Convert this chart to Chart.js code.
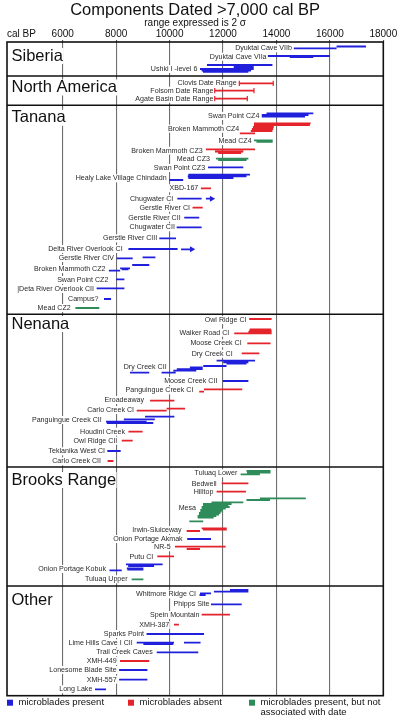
<!DOCTYPE html>
<html>
<head>
<meta charset="utf-8">
<script src="https://cdn.jsdelivr.net/npm/chart.js@4.4.1/dist/chart.umd.min.js"></script>
<style>
  html, body { margin: 0; padding: 0; background: #fff; }
  #wrap { width: 398px; height: 720px; position: relative; }
</style>
</head>
<body>
<div id="wrap"><canvas id="chart"></canvas></div>
<script>
// Components dated >7,000 cal BP, 2 sigma ranges
// site: [name, label row, label ends at (cal BP), kind, [[from, to, row, mark], ...]]
// rows count down from the top of the plot

const xTicks = [6000, 8000, 10000, 12000, 14000, 16000, 18000];
const sectionNames = ['Siberia', 'North America', 'Tanana', 'Nenana', 'Brooks Range', 'Other'];
const sectionRows = [14, 45.5, 75.8, 282, 438, 558];
const sectionBreaks = [34, 63.3, 272.3, 425, 544];
const kinds = ['B', 'R', 'G'];
const kindColors = ['#2020dc', '#e4232b', '#2e8b5a'];
const legendLabels = [['microblades present'], ['microblades absent'], ['microblades present, but not', 'associated with date']];

const siberia = [
    ['Dyuktai Cave VIIb', 6.3, 14580, 'B', [[14650, 16250, 6.3], [16250, 17350, 4.5]]],
    ['Dyuktai Cave VIIa', 14.7, 13630, 'B', [[13680, 16000, 14], [14500, 15380, 15.2]]],
    ['Ushki I -level 6', 27, 11040, 'B', [[11400, 13850, 23], [12400, 13150, 25], [11140, 13150, 27], [11200, 13050, 28.5], [11250, 12950, 29.8]]],
];

const northAmerica = [
    ['Clovis Date Range', 41.3, 12510, 'R', [[12610, 13880, 41.3, 'cap']]],
    ['Folsom Date Range', 48.7, 11640, 'R', [[11690, 13160, 48.7, 'cap']]],
    ['Agate Basin Date Range', 56.7, 11640, 'R', [[11690, 12910, 56.7, 'cap']]],
];

const tanana = [
    ['Swan Point CZ4', 74, 13360, 'B', [[13630, 15380, 71.3], [13450, 15200, 73], [13450, 15070, 74.6]]],
    ['Broken Mammoth CZ4', 86.7, 12610, 'R', [[12630, 13200, 91.3], [13160, 15280, 81.3], [13160, 15250, 83], [13120, 13900, 85], [13080, 13880, 87], [13040, 13850, 89]]],
    ['Mead CZ4', 99, 13070, 'G', [[13160, 13860, 98.3], [13250, 13860, 99.8]]],
    ['Broken Mammoth CZ3', 108.7, 11240, 'R', [[11360, 13200, 107.3], [11700, 12760, 109.5], [11820, 12680, 111]]],
    ['Mead CZ3', 117.3, 11510, 'G', [[11740, 12950, 116.7], [11820, 12880, 118.2]]],
    ['Swan Point CZ3', 126, 11330, 'B', [[11440, 12760, 125.3]]],
    ['Healy Lake Village Chindadn', 136.3, 9890, 'B', [[9990, 10510, 138], [10700, 13010, 132.7], [10680, 12880, 134.4], [10700, 12390, 136.2]]],
    ['XBD-167', 146.3, 11075, 'R', [[11175, 11550, 146.3]]],
    ['Chugwater CI', 156.7, 10140, 'B', [[10290, 11200, 156.7], [11360, 11575, 156.7, 'arrow']]],
    ['Gerstle River CI', 165.7, 10765, 'R', [[10860, 11240, 165.7]]],
    ['Gerstle River CII', 175.7, 10415, 'B', [[10550, 11110, 175.7]]],
    ['Chugwater CII', 185.3, 10200, 'B', [[10265, 11200, 185.3]]],
    ['Gerstle River CIII', 196.3, 9540, 'B', [[9615, 10240, 196.3]]],
    ['Delta River Overlook CI', 207, 8245, 'B', [[8460, 10300, 207], [10430, 10830, 207.3, 'arrow']]],
    ['Gerstle River CIV', 216, 7920, 'B', [[8020, 8620, 216.3], [8990, 9470, 215.3]]],
    ['Broken Mammoth CZ2', 227, 7600, 'B', [[7730, 8150, 228.7], [8150, 8520, 226.3], [8210, 8460, 227.4], [8600, 9240, 223]]],
    ['Swan Point CZ2', 238, 7710, 'B', [[8000, 8310, 237.3]]],
    ['|Deta River Overlook CII', 247, 7170, 'B', [[7270, 8310, 246.3]]],
    ['Campus?', 257, 7335, 'B', [[7545, 7810, 257]]],
    ['Mead CZ2', 266, 6300, 'G', [[6475, 7370, 266]]],
];

const nenana = [
    ['Owl Ridge CI', 278, 12880, 'R', [[12980, 13820, 277]]],
    ['Walker Road CI', 290.7, 12235, 'R', [[12420, 13820, 291.3], [12950, 13820, 290], [12980, 13820, 288.7], [13000, 13800, 287.5]]],
    ['Moose Creek CI', 301.3, 12700, 'R', [[12910, 13780, 301.3]]],
    ['Dry Creek CI', 311.7, 12360, 'R', [[12700, 13360, 311.3]]],
    ['Dry Creek CII', 324.7, 9890, 'B', [[11760, 13200, 318.7], [12010, 12950, 320.3], [12130, 12880, 321.7], [11260, 12130, 324], [10760, 11240, 325.5], [10270, 11240, 327.2], [10140, 11000, 328.6], [9700, 10230, 330.7], [8520, 9240, 330.7]]],
    ['Moose Creek CII', 339, 11790, 'B', [[11990, 12950, 339]]],
    ['Panguingue Creek CI', 348.3, 10890, 'R', [[11110, 11290, 349.7], [11290, 12720, 347.3]]],
    ['Eroadeaway', 358, 9045, 'R', [[9270, 10180, 358.7]]],
    ['Carlo Creek CI', 368, 8670, 'R', [[8770, 9890, 368.7], [9890, 10580, 366.7]]],
    ['Panguingue Creek CII', 378, 7460, 'B', [[9080, 10180, 374.7], [8290, 9450, 377.3], [7620, 9140, 379.7], [7650, 9390, 381]]],
    ['Houdini Creek', 389.7, 8330, 'R', [[8460, 8990, 389.7]]],
    ['Owl Ridge CII', 398.7, 8045, 'R', [[8210, 8620, 398.7]]],
    ['Teklanika West CI', 409.3, 7585, 'B', [[7670, 8170, 409]]],
    ['Carlo Creek CII', 419.3, 7435, 'R', [[7680, 7900, 419]]],
];

const brooksRange = [
    ['Tuluaq Lower', 431.3, 12535, 'G', [[12660, 13380, 432.3], [12880, 13780, 429], [12900, 13780, 430.6]]],
    ['Bedwell', 441.7, 11760, 'R', [[11950, 12950, 441.3]]],
    ['Hilltop', 449.7, 11640, 'R', [[11760, 12860, 449.7]]],
    ['Mesa', 466.3, 10990, 'G', [[13380, 15100, 456.3], [12880, 13760, 458], [11570, 12760, 460.3], [11250, 12320, 462], [11250, 12200, 463.5], [11200, 12250, 465], [11200, 12100, 466.5], [11150, 12000, 468], [11150, 11950, 469.5], [11100, 11900, 471], [11100, 11850, 472.5], [11050, 11750, 474], [11050, 11650, 475.5], [10740, 11260, 479.3]]],
    ['Irwin-Sluiceway', 488, 10450, 'R', [[10640, 11140, 489], [11200, 12140, 486.3], [11250, 12140, 487.7]]],
    ['Onion Portage Akmak', 497, 10490, 'B', [[10660, 11550, 497]]],
    ['NR-5', 505.3, 10040, 'R', [[10200, 12100, 504.7], [10640, 11140, 507]]],
    ['Putu CI', 514.7, 9390, 'R', [[9540, 10165, 514.3]]],
    ['Onion Portage Kobuk', 527, 7620, 'B', [[7750, 8210, 528.3], [8370, 9740, 522.3], [8450, 9420, 524], [8400, 9020, 526.3], [8420, 9020, 527.7]]],
    ['Tuluaq Upper', 537.3, 8430, 'G', [[8580, 9020, 537.3]]],
];

const other = [
    ['Whitmore Ridge CI', 552.3, 10990, 'B', [[11140, 11550, 551.3], [11120, 11350, 553], [11660, 12950, 549.7], [12260, 12950, 548]]],
    ['Phipps Site', 562.3, 11490, 'B', [[11550, 12700, 562.3]]],
    ['Spein Mountain', 573, 11115, 'R', [[11200, 12260, 572.7]]],
    ['XMH-387', 583, 9990, 'R', [[10165, 10350, 582.7]]],
    ['Sparks Point', 592, 9045, 'B', [[9140, 11290, 592]]],
    ['Lime Hills Cave I CII', 601.3, 8620, 'B', [[8770, 10165, 600.7], [9020, 10140, 602], [10540, 11160, 600.7]]],
    ['Trail Creek Caves', 610.3, 9370, 'B', [[9520, 11075, 610.3]]],
    ['XMH-449', 619, 8020, 'R', [[8145, 9240, 619]]],
    ['Lonesome Blade Site', 628, 8020, 'B', [[8110, 9170, 628]]],
    ['XMH-557', 637.7, 8020, 'B', [[8110, 9170, 637.7]]],
    ['Long Lake', 647.3, 7110, 'B', [[7210, 7620, 647.3]]],
];

const allSites = [].concat(siberia, northAmerica, tanana, nenana, brooksRange, other);
const FONT = '"Liberation Sans", Arial, Helvetica, sans-serif';

// one line dataset per kind, segments split by NaN gaps
function buildPoints(kind) {
    const pts = [];
    allSites.filter(s => s[3] === kind).forEach(s => {
        s[4].forEach(seg => {
            const mark = seg[3] || '';
            pts.push({ x: seg[0], y: seg[2], mark: mark === 'cap' ? 'cap' : '' });
            pts.push({ x: seg[1], y: seg[2], mark: mark });
            pts.push({ x: seg[1], y: NaN, mark: '' });
        });
    });
    return pts;
}

const datasets = kinds.map((k, i) => ({
    label: legendLabels[i].join(' '),
    data: buildPoints(k),
    borderColor: kindColors[i],
    backgroundColor: kindColors[i],
    borderWidth: 1.8,
    borderCapStyle: 'butt',
    spanGaps: false,
    tension: 0,
    pointStyle: ctx => (ctx.raw && ctx.raw.mark === 'arrow') ? 'triangle' : 'line',
    pointRadius: ctx => (ctx.raw && ctx.raw.mark) ? (ctx.raw.mark === 'arrow' ? 2.3 : 2.6) : 0,
    rotation: 90,
    pointBorderWidth: 1.2,
    pointBorderColor: kindColors[i],
    pointBackgroundColor: kindColors[i],
    pointHitRadius: 0,
}));

const sitePlugin = {
    id: 'sitePlugin',
    beforeDatasetsDraw(chart) {
        const { ctx, chartArea, scales: { x, y } } = chart;
        ctx.save();
        // section dividers
        ctx.strokeStyle = '#111';
        ctx.lineWidth = 1.4;
        sectionBreaks.forEach(r => {
            const py = y.getPixelForValue(r);
            ctx.beginPath();
            ctx.moveTo(chartArea.left, py);
            ctx.lineTo(chartArea.right, py);
            ctx.stroke();
        });
        // section names
        ctx.font = '16.5px ' + FONT;
        ctx.textBaseline = 'middle';
        ctx.textAlign = 'left';
        sectionNames.forEach((n, i) => {
            const py = y.getPixelForValue(sectionRows[i]);
            const w = ctx.measureText(n).width;
            ctx.fillStyle = '#fff';
            ctx.fillRect(chartArea.left + 4, py - 8, w + 1, 16);
            ctx.fillStyle = '#111';
            ctx.fillText(n, chartArea.left + 4.5, py);
        });
        // site labels
        ctx.font = '7.1px ' + FONT;
        ctx.textAlign = 'right';
        allSites.forEach(s => {
            const px = x.getPixelForValue(s[2]);
            const py = y.getPixelForValue(s[1]);
            const w = ctx.measureText(s[0]).width;
            ctx.fillStyle = '#fff';
            ctx.fillRect(px - w - 0.5, py - 4, w + 1, 8);
            ctx.fillStyle = '#2a2a2a';
            ctx.fillText(s[0], px, py);
        });
        ctx.restore();
    },
    afterDatasetsDraw(chart) {
        const { ctx, chartArea } = chart;
        ctx.save();
        ctx.strokeStyle = '#111';
        ctx.lineWidth = 1.6;
        ctx.strokeRect(chartArea.left, chartArea.top, chartArea.right - chartArea.left, chartArea.bottom - chartArea.top);
        ctx.restore();
    },
    afterDraw(chart) {
        const { ctx, chartArea } = chart;
        ctx.save();
        ctx.fillStyle = '#111';
        ctx.font = '10px ' + FONT;
        ctx.textBaseline = 'middle';
        ctx.textAlign = 'left';
        ctx.fillText('cal BP', chartArea.left, chartArea.top - 8);
        // legend
        ctx.font = '9.5px ' + FONT;
        legendLabels.forEach((lines, i) => {
            const lx = chartArea.left + i * 121;
            const ly = chartArea.bottom + 7;
            ctx.fillStyle = kindColors[i];
            ctx.fillRect(lx, ly - 3, 6, 6);
            ctx.fillStyle = '#111';
            lines.forEach((t, j) => ctx.fillText(t, lx + 11.5, ly + j * 10));
        });
        ctx.restore();
    }
};

new Chart(document.getElementById('chart'), {
    type: 'line',
    data: { datasets: datasets },
    options: {
        responsive: true,
        maintainAspectRatio: false,
        animation: false,
        events: [],
        layout: { padding: { top: 0, left: 7, right: 14.7, bottom: 24.3 } },
        plugins: {
            legend: { display: false },
            tooltip: { enabled: false },
            title: {
                display: true,
                text: 'Components Dated >7,000 cal BP',
                color: '#111',
                font: { family: FONT, size: 16.5, weight: 'normal', lineHeight: 1 },
                padding: { top: 2, bottom: 0 }
            },
            subtitle: {
                display: true,
                text: 'range expressed is 2 σ',
                color: '#111',
                font: { family: FONT, size: 10, weight: 'normal', lineHeight: 1 },
                padding: { top: 0, bottom: 0 }
            }
        },
        scales: {
            x: {
                type: 'linear',
                position: 'top',
                min: 3915,
                max: 18000,
                afterBuildTicks: scale => { scale.ticks = xTicks.map(v => ({ value: v })); },
                afterFit: scale => { scale.height = 13.5; },
                border: { display: false },
                grid: {
                    color: ctx => (ctx.tick && ctx.tick.value === 18000) ? 'rgba(0,0,0,0)' : '#6e6e6e',
                    tickColor: '#555',
                    tickLength: 2,
                    lineWidth: 1.1
                },
                ticks: {
                    padding: 0,
                    color: '#111',
                    font: { family: FONT, size: 10 },
                    maxRotation: 0,
                    callback: v => String(v)
                }
            },
            y: {
                type: 'linear',
                reverse: true,
                min: 0,
                max: 653.7,
                display: false
            }
        }
    },
    plugins: [sitePlugin]
});
</script>
</body>
</html>
